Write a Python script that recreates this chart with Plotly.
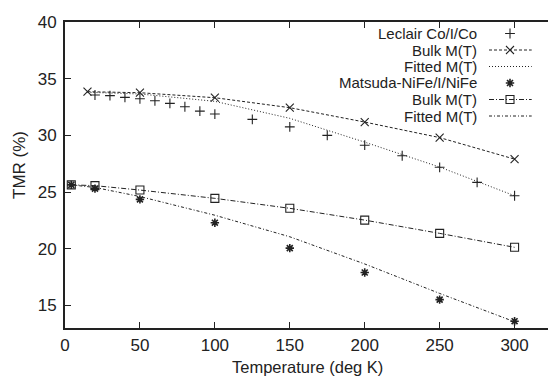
import plotly.graph_objects as go

# ---- data ----
leclair_T = [20, 30, 40, 50, 60, 70, 80, 90, 100, 125, 150, 175, 200, 225, 250, 275, 300]
leclair_tmr = [33.56, 33.50, 33.35, 33.23, 33.05, 32.82, 32.52, 32.14, 31.88, 31.41,
               30.75, 30.0, 29.13, 28.2, 27.18, 25.85, 24.67]
leclair_bulk_T = [15, 50, 100, 150, 200, 250, 300]
leclair_bulk = [33.85, 33.76, 33.32, 32.44, 31.17, 29.8, 27.9]
leclair_fit_T = [15, 50, 100, 150, 200, 250, 300]
leclair_fit = [33.8, 33.65, 33.0, 31.5, 29.4, 27.2, 24.67]

matsuda_T = [4.2, 20, 50, 100, 150, 200, 250, 300]
matsuda_tmr = [25.63, 25.3, 24.35, 22.29, 20.05, 17.9, 15.5, 13.6]
matsuda_bulk = [25.63, 25.56, 25.17, 24.44, 23.56, 22.52, 21.35, 20.12]
matsuda_fit = [25.63, 25.4, 24.6, 22.95, 21.05, 18.65, 16.05, 13.55]

legend_labels = ["Leclair Co/I/Co", "Bulk M(T)", "Fitted M(T)",
                 "Matsuda-NiFe/I/NiFe", "Bulk M(T)", "Fitted M(T)"]

x_ticks = [0, 50, 100, 150, 200, 250, 300]
y_ticks = [15, 20, 25, 30, 35, 40]

# ---- styles ----
INK = "#222222"
FONT = "Liberation Sans, Arial, sans-serif"
FS = 17
FS_TITLE = 16.5
FS_LEG = 15
styles = [
    dict(mode="markers", marker=dict(symbol="cross-thin-open", size=7, color=INK, line=dict(width=1.1, color=INK))),
    dict(mode="lines+markers", line=dict(color=INK, width=1, dash="3px,2px"),
         marker=dict(symbol="x-thin-open", size=8, color=INK, line=dict(width=1.1, color=INK))),
    dict(mode="lines", line=dict(color=INK, width=1, dash="1px,2px")),
    dict(mode="markers", marker=dict(symbol="asterisk-open", size=7, color=INK, line=dict(width=1.6, color=INK))),
    dict(mode="lines+markers", line=dict(color=INK, width=1, dash="5px,2px,1px,2px"),
         marker=dict(symbol="square-open", size=8, color=INK, line=dict(width=1.1, color=INK))),
    dict(mode="lines", line=dict(color=INK, width=1, dash="3px,2px,1px,2px")),
]
series = [
    (leclair_T, leclair_tmr),
    (leclair_bulk_T, leclair_bulk),
    (leclair_fit_T, leclair_fit),
    (matsuda_T, matsuda_tmr),
    (matsuda_T, matsuda_bulk),
    (matsuda_T, matsuda_fit),
]

W, H = 548, 376
ML, MR, MT, MB = 65, 0, 22, 48
PW, PH = W - ML - MR, H - MT - MB

fig = go.Figure()
for (xs, ys), st in zip(series, styles):
    fig.add_trace(go.Scatter(x=xs, y=ys, showlegend=False, hoverinfo="skip", cliponaxis=False, **st))

# ---- custom gnuplot-style legend (text right-aligned, key at right) ----
def px2fx(px):
    return (px - ML) / PW

def py2fy(py):
    return (MT + PH - py) / PH

row_y = [33.5, 50, 66.5, 83, 99.5, 116]
key_x0, key_x1, key_xm, text_right = 489, 531.7, 510, 478.3
for lab, py, st in zip(legend_labels, row_y, styles):
    fy = py2fy(py)
    fig.add_annotation(x=px2fx(text_right), y=fy, xref="paper", yref="paper", text=lab,
                       showarrow=False, xanchor="right", yanchor="middle", borderpad=0,
                       font=dict(family=FONT, size=FS_LEG, color=INK))
    if "lines" in st["mode"]:
        fig.add_trace(go.Scatter(x=[px2fx(key_x0), px2fx(key_x1)], y=[fy, fy], mode="lines",
                                 line=st["line"], xaxis="x2", yaxis="y2", showlegend=False,
                                 hoverinfo="skip"))
    if "markers" in st["mode"]:
        fig.add_trace(go.Scatter(x=[px2fx(key_xm)], y=[fy], mode="markers", marker=st["marker"],
                                 xaxis="x2", yaxis="y2", showlegend=False, hoverinfo="skip",
                                 cliponaxis=False))

# axis titles
fig.add_annotation(x=px2fx(307), y=py2fy(367), xref="paper", yref="paper",
                   text="Temperature (deg K)", showarrow=False, xanchor="center", yanchor="middle",
                   borderpad=0, font=dict(family=FONT, size=FS_TITLE, color=INK))
fig.add_annotation(x=px2fx(19), y=py2fy(165), xref="paper", yref="paper",
                   text="TMR (%)", showarrow=False, textangle=-90, xanchor="center", yanchor="middle",
                   font=dict(family=FONT, size=FS, color=INK))

fig.update_layout(
    width=W, height=H,
    margin=dict(l=ML, r=MR, t=MT, b=MB, pad=0),
    paper_bgcolor="white", plot_bgcolor="white",
    font=dict(family=FONT, size=FS, color=INK),
    xaxis=dict(range=[0, PW / 1.4986], tickvals=x_ticks, ticks="inside", ticklen=6,
               tickcolor=INK, tickwidth=1.2, showline=True, linecolor=INK, linewidth=2,
               mirror="allticks", showgrid=False, zeroline=False, ticklabelstandoff=1,
               tickfont=dict(family=FONT, size=FS, color=INK)),
    yaxis=dict(range=[13, 40], tickvals=y_ticks, ticks="inside", ticklen=6,
               tickcolor=INK, tickwidth=1.2, showline=True, linecolor=INK, linewidth=2,
               showgrid=False, zeroline=False, ticklabelstandoff=3,
               tickfont=dict(family=FONT, size=FS, color=INK)),
    xaxis2=dict(range=[0, 1], overlaying="x", visible=False, fixedrange=True),
    yaxis2=dict(range=[0, 1], overlaying="y", visible=False, fixedrange=True),
)

fig.write_html("out.html")
